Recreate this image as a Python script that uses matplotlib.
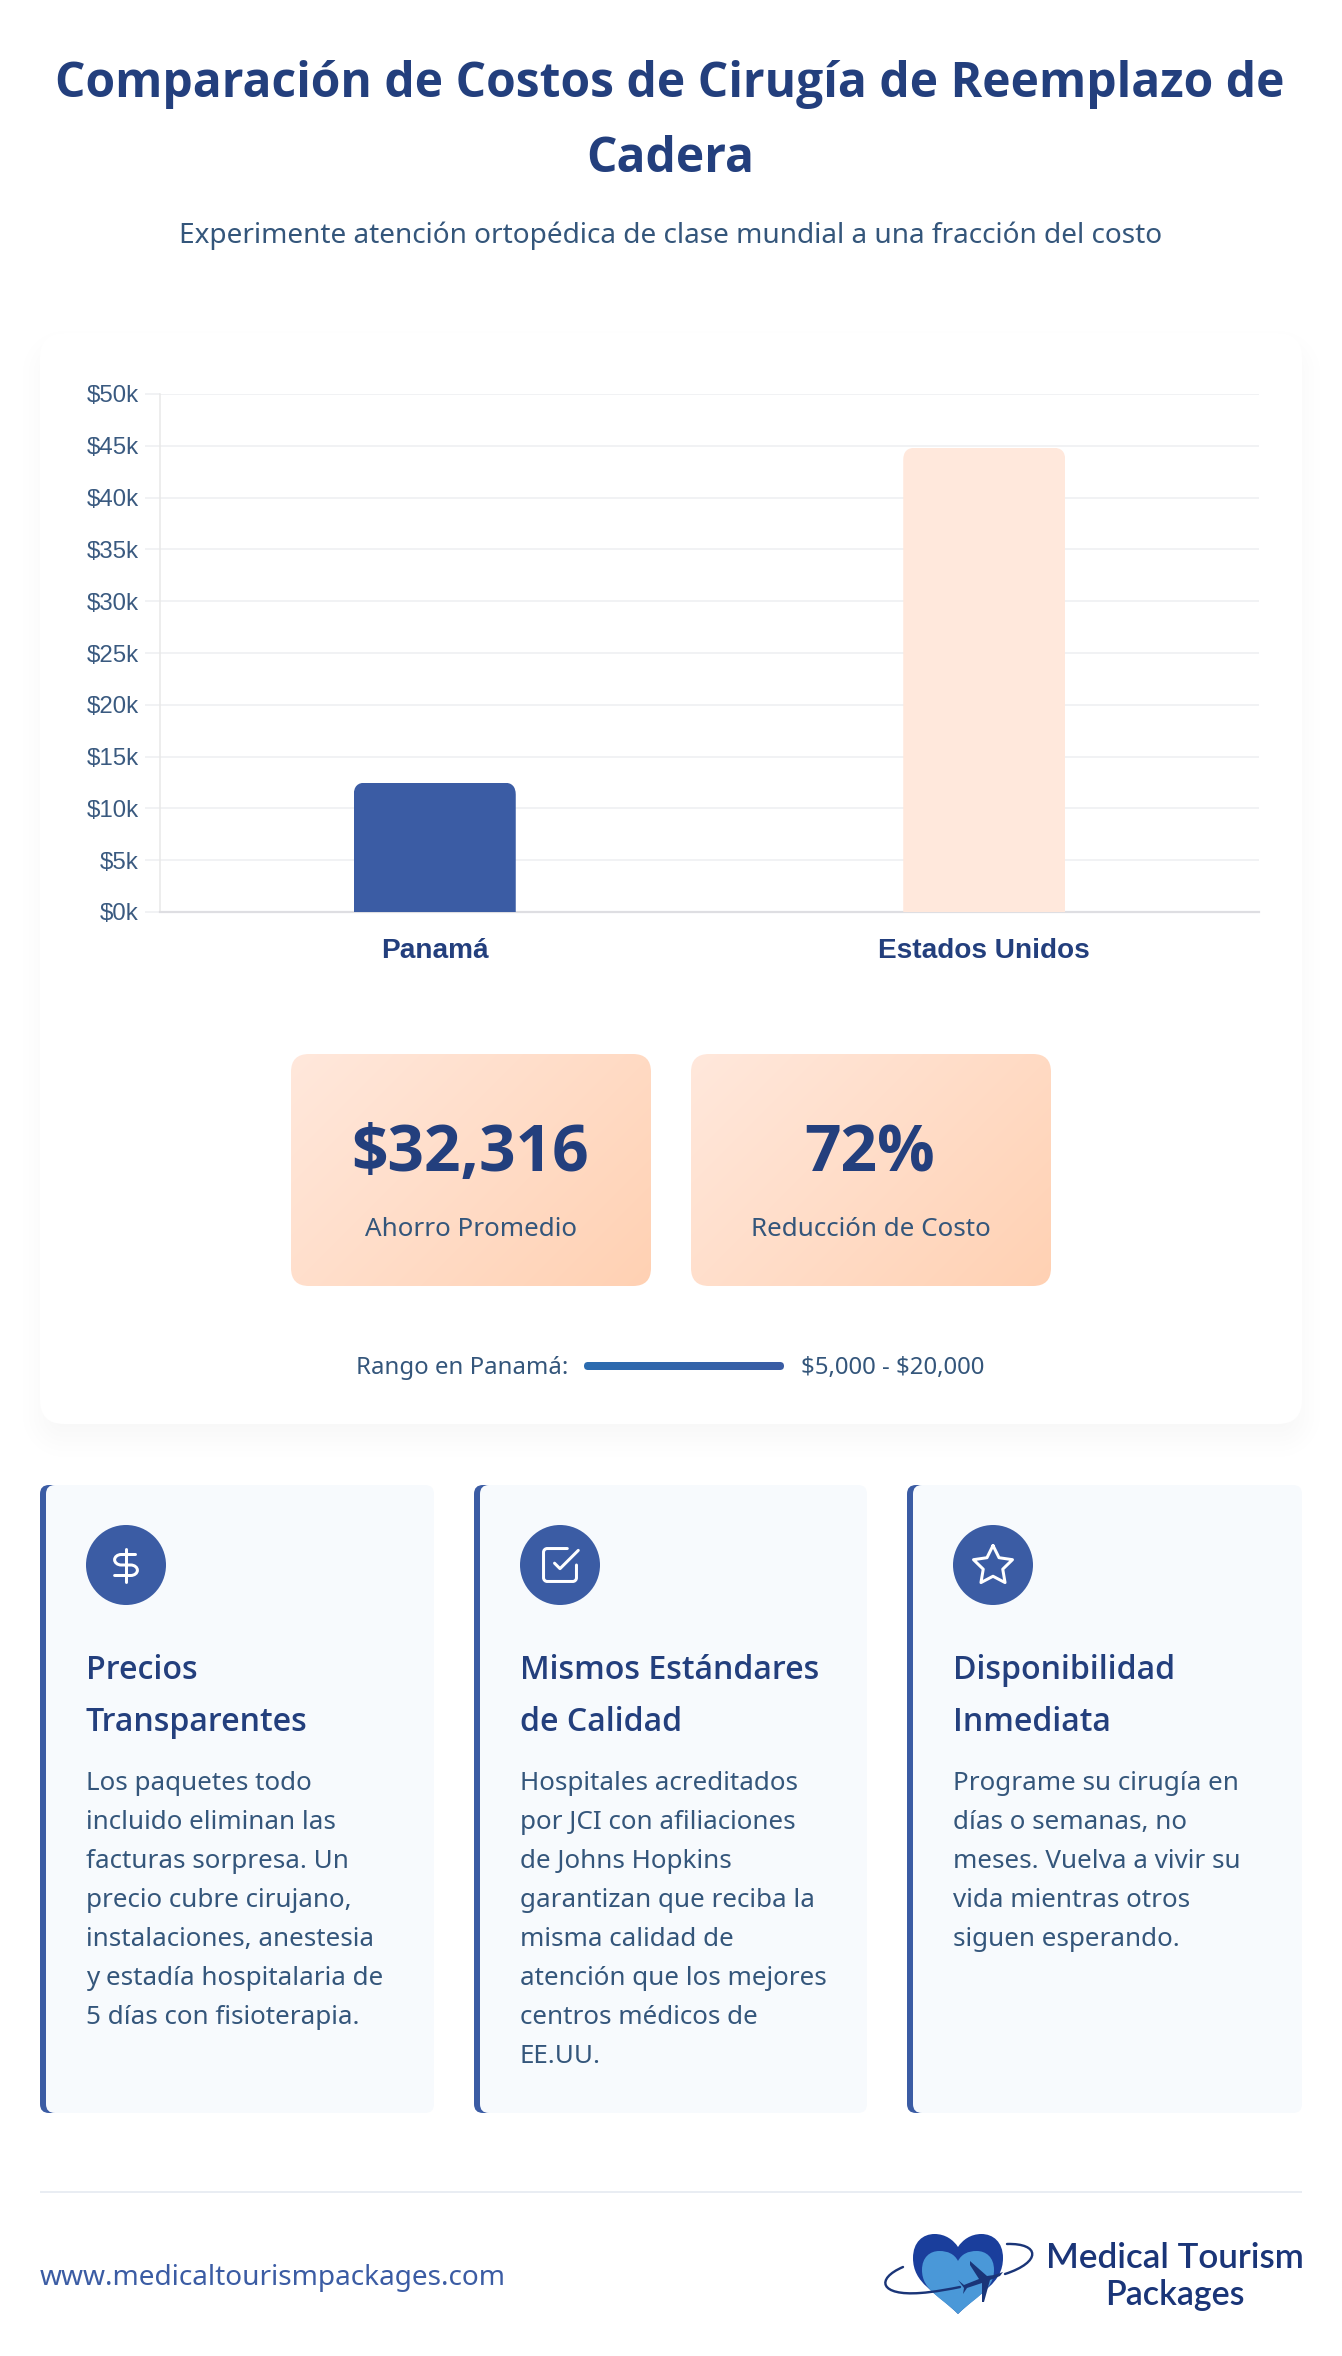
import numpy as np
import matplotlib
matplotlib.use("Agg")
import matplotlib.pyplot as plt
from matplotlib.patches import FancyBboxPatch, Circle, PathPatch, Rectangle
from matplotlib.path import Path
from matplotlib.transforms import IdentityTransform

# ---------- data ----------
categories = ["Panamá", "Estados Unidos"]
costs = [12500, 44816]
y_ticks = [0, 5000, 10000, 15000, 20000, 25000, 30000, 35000, 40000, 45000, 50000]
y_labels = [r"\$0k", r"\$5k", r"\$10k", r"\$15k", r"\$20k", r"\$25k", r"\$30k", r"\$35k", r"\$40k", r"\$45k", r"\$50k"]
bar_colors = ["#3B5CA4", "#FFE8DC"]
title_lines = ["Comparación de Costos de Cirugía de Reemplazo de", "Cadera"]
subtitle = "Experimente atención ortopédica de clase mundial a una fracción del costo"
stat_values = [r"\$32,316", "72%"]
stat_labels = ["Ahorro Promedio", "Reducción de Costo"]
feature_titles = [["Precios", "Transparentes"], ["Mismos Estándares", "de Calidad"], ["Disponibilidad", "Inmediata"]]
feature_bodies = [
    ["Los paquetes todo", "incluido eliminan las", "facturas sorpresa. Un", "precio cubre cirujano,",
     "instalaciones, anestesia", "y estadía hospitalaria de", "5 días con fisioterapia."],
    ["Hospitales acreditados", "por JCI con afiliaciones", "de Johns Hopkins", "garantizan que reciba la",
     "misma calidad de", "atención que los mejores", "centros médicos de", "EE.UU."],
    ["Programe su cirugía en", "días o semanas, no", "meses. Vuelva a vivir su", "vida mientras otros",
     "siguen esperando."],
]

NAVY = "#233F7D"
SLATE = "#34567B"
BLUE = "#3B5CA4"
W, H = 1342, 2356
NS = "Noto Sans"
OS = "Open Sans"
def pt(px):
    return px * 0.72

fig = plt.figure(figsize=(W / 100, H / 100), dpi=100, facecolor="white")
bg = fig.add_axes([0, 0, 1, 1])
bg.set_xlim(0, W); bg.set_ylim(H, 0); bg.axis("off")

def rrect(x0, y0, x1, y1, r, **kw):
    p = FancyBboxPatch((x0 + r, y0 + r), x1 - x0 - 2 * r, y1 - y0 - 2 * r,
                       boxstyle=f"round,pad={r},rounding_size={r}", linewidth=0, **kw)
    bg.add_patch(p)
    return p

# card shadow
yy, xx = np.mgrid[280:1510, 0:W]
cx0, cx1, cy0, cy1, cr = 40, 1302, 333 + 15, 1424 + 15, 24
qx = np.abs(xx - (cx0 + cx1) / 2) - ((cx1 - cx0) / 2 - cr)
qy = np.abs(yy - (cy0 + cy1) / 2) - ((cy1 - cy0) / 2 - cr)
sd = np.hypot(np.maximum(qx, 0), np.maximum(qy, 0)) + np.minimum(np.maximum(qx, qy), 0) - cr
tt = np.clip(0.5 - sd / 60, 0, 1)
alpha = 0.035 * tt ** 2 * (3 - 2 * tt)
img = np.zeros(sd.shape + (4,)); img[..., 3] = alpha
bg.imshow(img, extent=(0, W, 1510, 280), aspect="auto", zorder=1, interpolation="bilinear")
bg.set_xlim(0, W); bg.set_ylim(H, 0)
rrect(40, 333, 1302, 1424, 24, facecolor="white", zorder=2)

def label(x, y, s, ha="left", family=NS, weight="normal", size=26, color=SLATE):
    return bg.text(x, y, s, ha=ha, va="baseline", family=family, weight=weight, fontsize=pt(size), color=color, zorder=6)

# header
for s, y in zip(title_lines, [97, 172]):
    label(670, y, s, ha="center", family=OS, weight="bold", size=48, color=NAVY)
label(671, 243, subtitle, ha="center", size=28)

# stat boxes
def gradient_box(x0, y0, x1, y1, r, c0, c1):
    w, h = int(x1 - x0), int(y1 - y0)
    v, u = np.mgrid[0:h, 0:w]
    ang = (u + v * 1.0) / (w + h)
    c0 = np.array(matplotlib.colors.to_rgb(c0)); c1 = np.array(matplotlib.colors.to_rgb(c1))
    g = c0[None, None, :] + (c1 - c0)[None, None, :] * ang[..., None]
    im = bg.imshow(g, extent=(x0, x1, y1, y0), aspect="auto", zorder=3)
    clip = rrect(x0, y0, x1, y1, r, facecolor="none", zorder=3)
    im.set_clip_path(clip)
    bg.set_xlim(0, W); bg.set_ylim(H, 0)

for (x0, x1), val, lab in zip([(291, 651), (691, 1051)], stat_values, stat_labels):
    gradient_box(x0, 1054, x1, 1286, 18, "#FFE8DC", "#FFD1B3")
    c = (x0 + x1) / 2
    label(c - 1, 1171, val, ha="center", family=OS, weight="bold", size=64, color=NAVY)
    label(c, 1236, lab, ha="center", size=26)

# range bar
label(568, 1374, "Rango en Panamá:", ha="right", size=24)
label(801, 1374, r"\$5,000 - \$20,000", size=24)
gradient_box(584, 1362, 784, 1370, 4, "#2B6CB0", "#3B5CA4")

# features
feature_x = [(40, 434), (474, 867), (907, 1302)]
for k, (x0, x1) in enumerate(feature_x):
    rrect(x0, 1485, x0 + 24, 2113, 9, facecolor=BLUE, zorder=3)
    rrect(x0 + 6, 1485, x1, 2113, 9, facecolor="#F7FAFD", zorder=4)
    bg.add_patch(Rectangle((x0 + 6, 1499), 10, 600, facecolor="#F7FAFD", lw=0, zorder=4))
    bg.add_patch(Circle((x0 + 86, 1565), 40, facecolor=BLUE, lw=0, zorder=5))
    tx = x0 + 46
    for s, y in zip(feature_titles[k], [1679, 1731]):
        label(tx, y, s, family=OS, weight="semibold", size=32.2, color=NAVY)
    for i, s in enumerate(feature_bodies[k]):
        label(tx, 1790 + i * 39, s, size=26)

# icons
def icon_path(verts, codes, cx, cy, sx, sy):
    v = np.array(verts, float)
    v = np.column_stack([cx + (v[:, 0] - 12) * sx, cy + (v[:, 1] - 12) * sy])
    bg.add_patch(PathPatch(Path(v, codes), facecolor="none", edgecolor="white", lw=pt(3.0),
                           capstyle="round", joinstyle="round", zorder=7))
M, L, C, Z = Path.MOVETO, Path.LINETO, Path.CURVE4, Path.CLOSEPOLY
cy_ic = 1565
# dollar
icon_path([(12, 1), (12, 23)], [M, L], 126, cy_ic, 1.5, 1.5)
icon_path([(17, 5), (9.5, 5), (7.57, 5), (6, 6.57), (6, 8.5), (6, 10.43), (7.57, 12), (9.5, 12),
           (14.5, 12), (16.43, 12), (18, 13.57), (18, 15.5), (18, 17.43), (16.43, 19), (14.5, 19), (6, 19)],
          [M, L, C, C, C, C, C, C, L, C, C, C, C, C, C, L], 126, cy_ic, 1.9, 1.5)
# check square
icon_path([(9, 11), (12, 14), (22, 4)], [M, L, L], 560, cy_ic, 1.83, 1.83)
icon_path([(21, 12), (21, 19), (21, 20.1), (20.1, 21), (19, 21), (5, 21), (3.9, 21), (3, 20.1), (3, 19),
           (3, 5), (3, 3.9), (3.9, 3), (5, 3), (16, 3)],
          [M, L, C, C, C, L, C, C, C, L, C, C, C, L], 560, cy_ic, 1.83, 1.83)
# star
star = [(12, 2), (15.09, 8.26), (22, 9.27), (17, 14.14), (18.18, 21.02), (12, 17.77), (5.82, 21.02),
        (7, 14.14), (2, 9.27), (8.91, 8.26), (12, 2)]
icon_path(star, [M] + [L] * 10, 993, cy_ic, 1.95, 1.95)

# footer
bg.plot([40, 1302], [2192, 2192], color="#E2E8F0", lw=pt(1.5), zorder=3, solid_capstyle="butt")
label(40, 2285, "www.medicaltourismpackages.com", size=28, color=BLUE)

# logo
def heart(x0, x1, ytop, ynotch, ytip, color, z):
    c = (x0 + x1) / 2; hw = (x1 - x0) / 2; hh = ytip - ytop
    v = [(c, ytip),
         (c - hw * 0.5, ytip - hh * 0.28), (x0, ytop + hh * 0.62), (x0, ytop + hh * 0.3),
         (x0, ytop + hh * 0.1), (c - hw * 0.78, ytop), (c - hw * 0.52, ytop),
         (c - hw * 0.28, ytop), (c - hw * 0.1, ynotch - 7), (c, ynotch),
         (c + hw * 0.1, ynotch - 7), (c + hw * 0.28, ytop), (c + hw * 0.52, ytop),
         (c + hw * 0.78, ytop), (x1, ytop + hh * 0.1), (x1, ytop + hh * 0.3),
         (x1, ytop + hh * 0.62), (c + hw * 0.5, ytip - hh * 0.28), (c, ytip), (c, ytip)]
    codes = [M] + [C] * 18 + [Z]
    bg.add_patch(PathPatch(Path(v, codes), facecolor=color, lw=0, zorder=z))
heart(913, 1003, 2234, 2247, 2314, "#1A3E9C", 4)
heart(922, 994, 2251, 2261, 2314, "#4A98D8", 5)
LOGO = "#1A3578"
bg.add_patch(PathPatch(Path([(903, 2267), (875, 2279), (880, 2296), (920, 2293), (935, 2292), (950, 2289), (960, 2287)],
                            [M, C, C, C, C, C, C]), facecolor="none", edgecolor=LOGO, lw=pt(2.4), zorder=6, capstyle="round"))
bg.add_patch(PathPatch(Path([(1005, 2274), (1042, 2262), (1040, 2243), (1007, 2244)], [M, C, C, C]),
                       facecolor="none", edgecolor=LOGO, lw=pt(2.4), zorder=6, capstyle="round"))
plane = [(1003, 2272), (994, 2275), (987, 2276), (970, 2261), (970, 2265), (979, 2279), (964, 2285),
         (958, 2280), (964, 2288), (963, 2294), (967, 2288), (982, 2283), (982, 2302), (984, 2302),
         (990, 2280), (1000, 2276), (1003, 2272)]
bg.add_patch(PathPatch(Path(plane, [M] + [L] * 15 + [Z]), facecolor=LOGO, lw=0, zorder=7))
label(1175, 2268, "Medical Tourism", ha="center", family="Lato", weight="semibold", size=35, color=LOGO)
label(1175, 2305, "Packages", ha="center", family="Lato", weight="semibold", size=34, color=LOGO)

# chart
L_, R_, T_, B_ = 160, 1259, 394, 912
ax = fig.add_axes([L_ / W, 1 - B_ / H, (R_ - L_) / W, (B_ - T_) / H], facecolor="none", zorder=10)
ax.set_xlim(-0.5, 1.5); ax.set_ylim(0, 50000)
ax.set_axisbelow(True)
ax.yaxis.grid(True, color="#F1F2F4", lw=pt(2))
for s in ["top", "right"]:
    ax.spines[s].set_visible(False)
ax.spines["left"].set_color("#E8E8E8"); ax.spines["left"].set_linewidth(pt(1.5))
ax.spines["bottom"].set_color("#DEDEE2"); ax.spines["bottom"].set_linewidth(pt(2.2))
ax.set_yticks(y_ticks); ax.set_yticklabels(y_labels)
ax.tick_params(axis="y", length=pt(15), width=pt(2), color="#F1F2F4", labelcolor="#3A5A80", labelsize=pt(24), pad=pt(6))
for t in ax.get_yticklabels():
    t.set_family("Liberation Sans")
ax.set_xticks(range(len(categories))); ax.set_xticklabels(categories)
ax.tick_params(axis="x", length=0, labelcolor=NAVY, labelsize=pt(28), pad=pt(26))
for t in ax.get_xticklabels():
    t.set_family("Liberation Sans"); t.set_weight("bold")
bars = ax.bar(range(len(categories)), costs, width=162 / 549.5, color=bar_colors, linewidth=0, zorder=3)
fig.canvas.draw()
for b in bars:
    (x0, y0), (x1, y1) = ax.transData.transform([(b.get_x(), 0), (b.get_x() + b.get_width(), b.get_height())])
    r = 12
    clip = Path([(x0, y0), (x0, y1 - r), (x0, y1), (x0 + r, y1), (x1 - r, y1), (x1, y1), (x1, y1 - r), (x1, y0), (x0, y0)],
                [M, L, Path.CURVE3, Path.CURVE3, L, Path.CURVE3, Path.CURVE3, L, Z])
    b.set_clip_path(clip, IdentityTransform())

fig.savefig("out.png", dpi=100, facecolor="white")
